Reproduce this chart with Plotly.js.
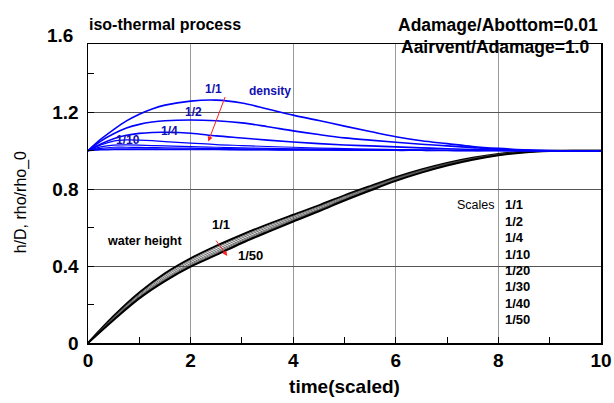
<!DOCTYPE html>
<html>
<head>
<meta charset="utf-8">
<script src="https://cdn.plot.ly/plotly-3.0.1.min.js"></script>
<style>html,body{margin:0;padding:0;background:#fff;}#chart{width:614px;height:403px;}</style>
</head>
<body>
<div id="chart"></div>
<script>
// time (scaled) for the density curves
const timeD = [0, 0.25, 0.5, 0.75, 1, 1.25, 1.5, 2, 2.5, 3, 3.5, 4, 4.5, 5, 5.5, 6, 6.5, 7, 7.5, 8, 8.5, 9, 9.5, 10];
// time (scaled) for the water height curves
const timeH = [0, 0.5, 1, 1.5, 2, 2.5, 3, 3.5, 4, 4.5, 5, 5.5, 6, 6.5, 7, 7.5, 8, 8.5, 9, 9.5, 10];

const scaleNames = ["1/1", "1/2", "1/4", "1/10", "1/20", "1/30", "1/40", "1/50"];

// density rho/rho_0 per scale
const rho_1_1  = [1.0, 1.06, 1.11, 1.155, 1.19, 1.217, 1.237, 1.258, 1.263, 1.248, 1.217, 1.185, 1.157, 1.128, 1.1, 1.073, 1.052, 1.037, 1.022, 1.012, 1.005, 1.001, 1.0, 1.0];
const rho_1_2  = [1.0, 1.05, 1.088, 1.118, 1.137, 1.149, 1.156, 1.16, 1.156, 1.145, 1.125, 1.103, 1.084, 1.067, 1.055, 1.044, 1.034, 1.025, 1.016, 1.008, 1.003, 1.0, 1.0, 1.0];
const rho_1_4  = [1.0, 1.035, 1.062, 1.08, 1.09, 1.095, 1.096, 1.091, 1.077, 1.066, 1.055, 1.045, 1.037, 1.03, 1.025, 1.02, 1.015, 1.01, 1.006, 1.003, 1.001, 1.0, 1.0, 1.0];
const rho_1_10 = [1.0, 1.03, 1.05, 1.056, 1.055, 1.052, 1.047, 1.04, 1.032, 1.027, 1.022, 1.018, 1.014, 1.011, 1.008, 1.006, 1.004, 1.003, 1.002, 1.001, 1.0, 1.0, 1.0, 1.0];
const rho_1_20 = [1.0, 1.02, 1.029, 1.03, 1.029, 1.027, 1.025, 1.021, 1.018, 1.015, 1.012, 1.01, 1.008, 1.007, 1.005, 1.004, 1.003, 1.002, 1.001, 1.001, 1.0, 1.0, 1.0, 1.0];
const rho_1_30 = [1.0, 1.012, 1.018, 1.018, 1.017, 1.016, 1.015, 1.013, 1.011, 1.01, 1.008, 1.007, 1.006, 1.005, 1.004, 1.003, 1.002, 1.001, 1.0, 1.0, 1.0, 1.0, 1.0, 1.0];
const rho_1_40 = [1.0, 1.007, 1.01, 1.01, 1.01, 1.01, 1.009, 1.008, 1.007, 1.006, 1.005, 1.004, 1.004, 1.003, 1.002, 1.002, 1.001, 1.001, 1.0, 1.0, 1.0, 1.0, 1.0, 1.0];
const rho_1_50 = [1.0, 1.004, 1.006, 1.006, 1.006, 1.006, 1.006, 1.005, 1.005, 1.004, 1.004, 1.003, 1.003, 1.002, 1.002, 1.001, 1.001, 1.0, 1.0, 1.0, 1.0, 1.0, 1.0, 1.0];

// water height h/D per scale
const h_1_1  = [0, 0.14, 0.262, 0.362, 0.44, 0.505, 0.563, 0.617, 0.667, 0.716, 0.768, 0.816, 0.862, 0.902, 0.936, 0.963, 0.983, 0.995, 1.0, 1.0, 1.0];
const h_1_2  = [0, 0.136, 0.256, 0.354, 0.431, 0.496, 0.554, 0.609, 0.66, 0.71, 0.763, 0.811, 0.858, 0.899, 0.933, 0.961, 0.982, 0.994, 1.0, 1.0, 1.0];
const h_1_4  = [0, 0.132, 0.25, 0.346, 0.423, 0.486, 0.546, 0.601, 0.653, 0.704, 0.757, 0.807, 0.854, 0.896, 0.931, 0.959, 0.98, 0.993, 0.999, 1.0, 1.0];
const h_1_10 = [0, 0.128, 0.244, 0.338, 0.414, 0.477, 0.537, 0.593, 0.646, 0.697, 0.752, 0.802, 0.851, 0.892, 0.928, 0.957, 0.979, 0.993, 0.999, 1.0, 1.0];
const h_1_20 = [0, 0.125, 0.24, 0.332, 0.408, 0.47, 0.531, 0.587, 0.641, 0.693, 0.748, 0.799, 0.848, 0.89, 0.926, 0.956, 0.978, 0.992, 0.999, 1.0, 1.0];
const h_1_30 = [0, 0.123, 0.237, 0.328, 0.403, 0.465, 0.526, 0.583, 0.637, 0.69, 0.745, 0.796, 0.846, 0.888, 0.925, 0.955, 0.977, 0.992, 0.998, 1.0, 1.0];
const h_1_40 = [0, 0.121, 0.234, 0.325, 0.4, 0.461, 0.523, 0.58, 0.634, 0.687, 0.743, 0.795, 0.844, 0.887, 0.924, 0.954, 0.976, 0.991, 0.998, 1.0, 1.0];
const h_1_50 = [0, 0.12, 0.232, 0.322, 0.397, 0.458, 0.52, 0.577, 0.632, 0.685, 0.741, 0.793, 0.843, 0.886, 0.923, 0.953, 0.976, 0.991, 0.998, 1.0, 1.0];

const rhoSeries = [rho_1_1, rho_1_2, rho_1_4, rho_1_10, rho_1_20, rho_1_30, rho_1_40, rho_1_50];
const hSeries = [h_1_1, h_1_2, h_1_4, h_1_10, h_1_20, h_1_30, h_1_40, h_1_50];

const traces = [];
hSeries.forEach((ys, i) => {
  const edge = (i === 0 || i === hSeries.length - 1);
  traces.push({x: timeH, y: ys, type: 'scatter', mode: 'lines', name: 'h ' + scaleNames[i],
    line: {color: edge ? '#000' : '#444', width: edge ? 2 : 0.8, shape: 'spline', smoothing: 1},
    showlegend: false, hoverinfo: 'skip'});
});
rhoSeries.forEach((ys, i) => {
  traces.push({x: timeD, y: ys, type: 'scatter', mode: 'lines', name: 'rho ' + scaleNames[i],
    line: {color: '#0000ff', width: i < 3 ? 1.6 : 1.2, shape: 'spline', smoothing: 1},
    showlegend: false, hoverinfo: 'skip'});
});

const F = 'Liberation Sans, Arial, sans-serif';
const ann = [];
function txt(x, y, text, o) {
  ann.push(Object.assign({x: x, y: y, xref: 'x', yref: 'y', text: text, showarrow: false,
    font: {family: F, size: 12, color: '#000', weight: 'bold'}}, o || {}));
}
// top texts
ann.push({xref: 'paper', yref: 'paper', x: -0.002, y: 1.065, xanchor: 'left', yanchor: 'middle',
  text: 'iso-thermal process', showarrow: false, font: {family: F, size: 16, color: '#000', weight: 'bold'}});
ann.push({xref: 'paper', yref: 'paper', x: 0.998, y: 1.065, xanchor: 'right', yanchor: 'middle',
  text: 'Adamage/Abottom=0.01', showarrow: false, font: {family: F, size: 17.5, color: '#000', weight: 'bold'}});
ann.push({xref: 'paper', yref: 'paper', x: 0.98, y: 0.99, xanchor: 'right', yanchor: 'middle',
  text: 'Aairvent/Adamage=1.0', showarrow: false, font: {family: F, size: 17.5, color: '#000', weight: 'bold'}});
// 1.6 tick label above frame
ann.push({xref: 'paper', yref: 'paper', x: -0.025, y: 1.028, xanchor: 'right', yanchor: 'middle',
  text: '1.6', showarrow: false, font: {family: F, size: 19, color: '#000', weight: 'bold'}});
// y axis title
ann.push({xref: 'paper', yref: 'paper', x: -0.129, y: 0.47, xanchor: 'center', yanchor: 'middle', textangle: -90,
  text: 'h/D, rho/rho_0', showarrow: false, font: {family: F, size: 16, color: '#000'}});

// density labels
const blue = '#1010b0';
txt(3.55, 1.313, 'density', {font: {family: F, size: 12, color: blue, weight: 'bold'}});
txt(2.44, 1.323, '1/1', {font: {family: F, size: 12, color: blue, weight: 'bold'}});
txt(2.05, 1.199, '1/2', {font: {family: F, size: 12, color: blue, weight: 'bold'}});
txt(1.58, 1.105, '1/4', {font: {family: F, size: 12, color: blue, weight: 'bold'}});
txt(0.78, 1.054, '1/10', {font: {family: F, size: 12, color: blue, weight: 'bold'}});
// water height labels
txt(1.11, 0.528, 'water height', {font: {family: F, size: 12.5, color: '#000', weight: 'bold'}});
txt(2.59, 0.615, '1/1', {font: {family: F, size: 13, color: '#000', weight: 'bold'}});
txt(3.17, 0.453, '1/50', {font: {family: F, size: 13, color: '#000', weight: 'bold'}});
// arrows
ann.push({x: 2.345, y: 1.048, ax: 2.684, ay: 1.287, xref: 'x', yref: 'y', axref: 'x', ayref: 'y',
  text: '', showarrow: true, arrowhead: 2, arrowsize: 1, arrowwidth: 1, arrowcolor: '#ff2020'});
ann.push({x: 2.715, y: 0.453, ax: 2.476, ay: 0.540, xref: 'x', yref: 'y', axref: 'x', ayref: 'y',
  text: '', showarrow: true, arrowhead: 2, arrowsize: 1, arrowwidth: 1, arrowcolor: '#ff2020'});
// Scales list
ann.push({xref: 'x', yref: 'y', x: 7.98, y: (343 - 205) / 191.9, xanchor: 'right', text: 'Scales',
  showarrow: false, font: {family: F, size: 12.5, color: '#000'}});
scaleNames.forEach((s, i) => {
  ann.push({xref: 'x', yref: 'y', x: 8.08, y: (343 - 205 - i * 16.4) / 191.9, xanchor: 'left', text: s,
    showarrow: false, font: {family: F, size: 13, color: '#000', weight: 'bold'}});
});

const layout = {
  width: 614, height: 403,
  margin: {l: 88, r: 13, t: 44, b: 60},
  paper_bgcolor: '#fff', plot_bgcolor: '#fff',
  font: {family: F, color: '#000'},
  xaxis: {
    range: [0, 10], tickvals: [0, 2, 4, 6, 8, 10], ticktext: ['0', '2', '4', '6', '8', '10'],
    showgrid: true, gridcolor: '#999', gridwidth: 1,
    ticks: 'inside', ticklen: 6, tickcolor: '#000',
    minor: {tickvals: [1, 3, 5, 7, 9], ticks: 'inside', ticklen: 6, tickcolor: '#000', showgrid: false},
    showline: true, linecolor: '#000', linewidth: 1.5, mirror: true, zeroline: false,
    tickfont: {family: F, size: 19, weight: 'bold'},
    title: {text: 'time(scaled)', font: {family: F, size: 19, weight: 'bold'}, standoff: 9}
  },
  yaxis: {
    range: [0, 1.555], tickvals: [0, 0.4, 0.8, 1.2], ticktext: ['0', '0.4', '0.8', '1.2'],
    showgrid: true, gridcolor: '#555', gridwidth: 1,
    ticks: 'inside', ticklen: 6, tickcolor: '#000',
    minor: {tickvals: [0.2, 0.6, 1.0, 1.4], ticks: 'inside', ticklen: 6, tickcolor: '#000', showgrid: false},
    showline: true, linecolor: '#000', linewidth: 1.5, mirror: true, zeroline: false,
    tickfont: {family: F, size: 19, weight: 'bold'},
    ticklabelstandoff: 4
  },
  annotations: ann,
  showlegend: false
};

Plotly.newPlot('chart', traces, layout, {staticPlot: true, displayModeBar: false});
</script>
</body>
</html>
